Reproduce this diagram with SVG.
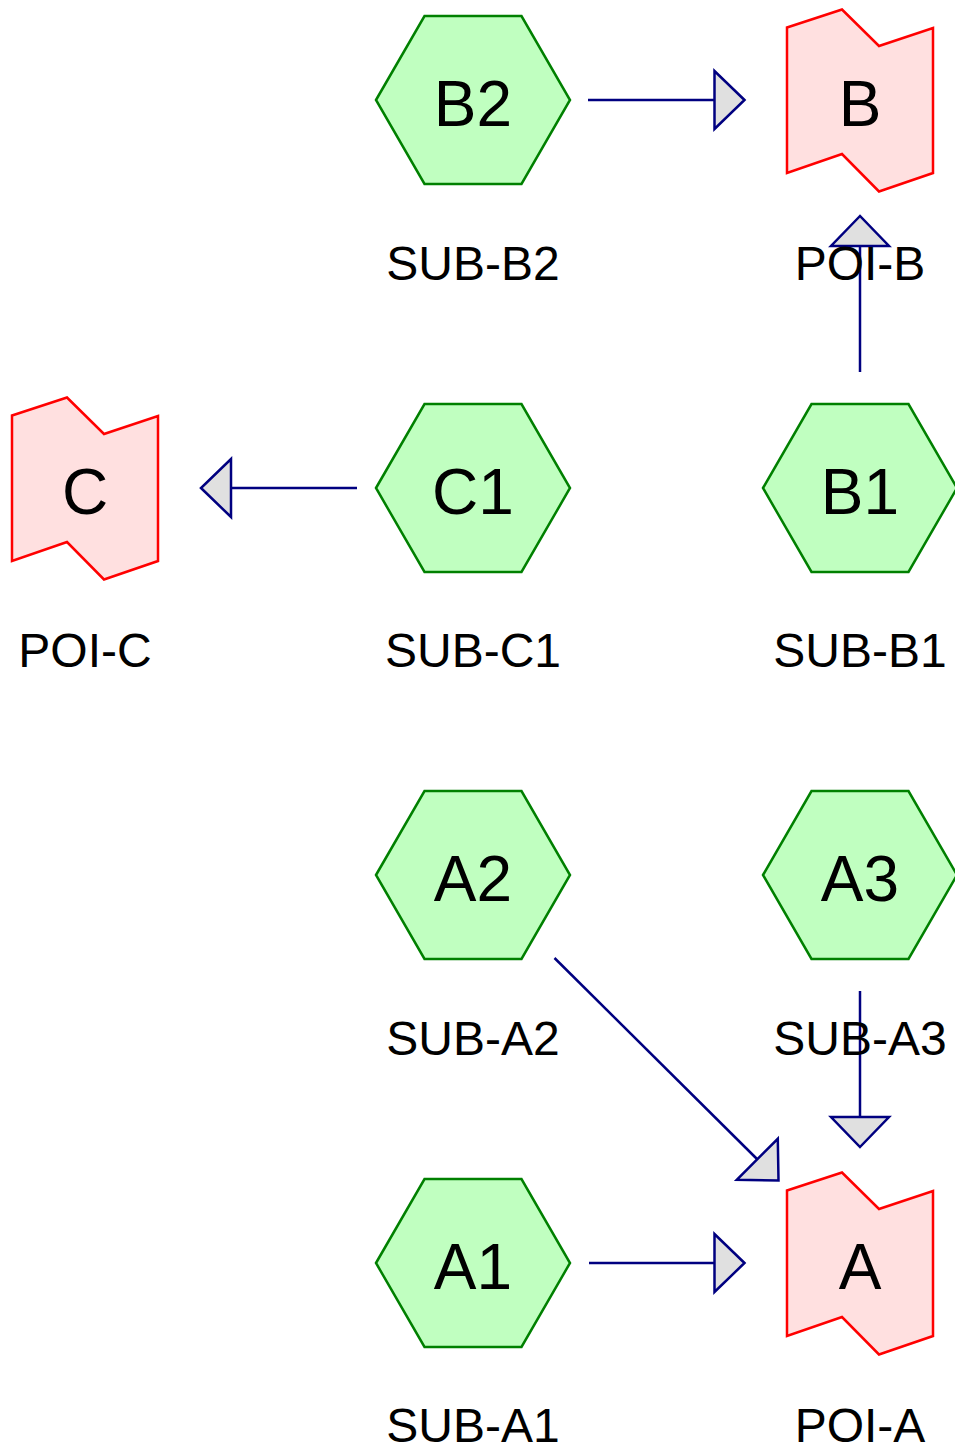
<svg xmlns="http://www.w3.org/2000/svg" width="955" height="1448" viewBox="0 0 955 1448">
<style>
.hex{fill:#c0ffc0;stroke:#008000;stroke-width:2.5}
.poi{fill:#ffe0e0;stroke:#ff0000;stroke-width:2.5}
.in{font-family:"Liberation Sans",Arial,sans-serif;font-size:64px;text-anchor:middle;fill:#000}
.lbl{font-family:"Liberation Sans",Arial,sans-serif;font-size:48px;text-anchor:middle;fill:#000}
.edge{stroke:#000080;stroke-width:2.5;fill:none}
.head{fill:#e0e0e0;stroke:#000080;stroke-width:2.5;stroke-linejoin:miter}
</style>
<defs>
<polygon id="hexshape" class="hex" points="-97,0 -48.5,-84 48.5,-84 97,0 48.5,84 -48.5,84"/>
<polygon id="poishape" class="poi" points="-73,-72.5 -18,-90.5 19,-54 73,-72 73,73 19,91.5 -18,54 -73,73"/>
<polygon id="ah" class="head" points="0,0 -30,-29 -30,29"/>
</defs>
<g id="connectors">
<g id="e-b2-b"><line class="edge" x1="588" y1="100" x2="715" y2="100"/><use href="#ah" transform="translate(744.5,100)"/></g>
<g id="e-b1-b"><line class="edge" x1="860" y1="372" x2="860" y2="246"/><use href="#ah" transform="translate(860,216) rotate(-90)"/></g>
<g id="e-c1-c"><line class="edge" x1="357" y1="488" x2="231" y2="488"/><use href="#ah" transform="translate(201,488) rotate(180)"/></g>
<g id="e-a2-a"><line class="edge" x1="554.5" y1="958" x2="757.5" y2="1159.5"/><use href="#ah" transform="translate(778.5,1180.5) rotate(45)"/></g>
<g id="e-a3-a"><line class="edge" x1="860" y1="991" x2="860" y2="1117"/><use href="#ah" transform="translate(860,1147) rotate(90)"/></g>
<g id="e-a1-a"><line class="edge" x1="589" y1="1263" x2="715" y2="1263"/><use href="#ah" transform="translate(744.5,1263)"/></g>
</g>
<g id="node-B2"><use href="#hexshape" transform="translate(473,100)"/><text class="in" x="473" y="126">B2</text><text class="lbl" x="473" y="280">SUB-B2</text></g>
<g id="node-B"><use href="#poishape" transform="translate(860,100)"/><text class="in" x="860" y="126">B</text><text class="lbl" x="860" y="280">POI-B</text></g>
<g id="node-C"><use href="#poishape" transform="translate(85,488)"/><text class="in" x="85" y="514">C</text><text class="lbl" x="85" y="667">POI-C</text></g>
<g id="node-C1"><use href="#hexshape" transform="translate(473,488)"/><text class="in" x="473" y="514">C1</text><text class="lbl" x="473" y="667">SUB-C1</text></g>
<g id="node-B1"><use href="#hexshape" transform="translate(860,488)"/><text class="in" x="860" y="514">B1</text><text class="lbl" x="860" y="667">SUB-B1</text></g>
<g id="node-A2"><use href="#hexshape" transform="translate(473,875)"/><text class="in" x="473" y="901">A2</text><text class="lbl" x="473" y="1055">SUB-A2</text></g>
<g id="node-A3"><use href="#hexshape" transform="translate(860,875)"/><text class="in" x="860" y="901">A3</text><text class="lbl" x="860" y="1055">SUB-A3</text></g>
<g id="node-A1"><use href="#hexshape" transform="translate(473,1263)"/><text class="in" x="473" y="1289">A1</text><text class="lbl" x="473" y="1442">SUB-A1</text></g>
<g id="node-A"><use href="#poishape" transform="translate(860,1263)"/><text class="in" x="860" y="1289">A</text><text class="lbl" x="860" y="1442">POI-A</text></g>
</svg>
